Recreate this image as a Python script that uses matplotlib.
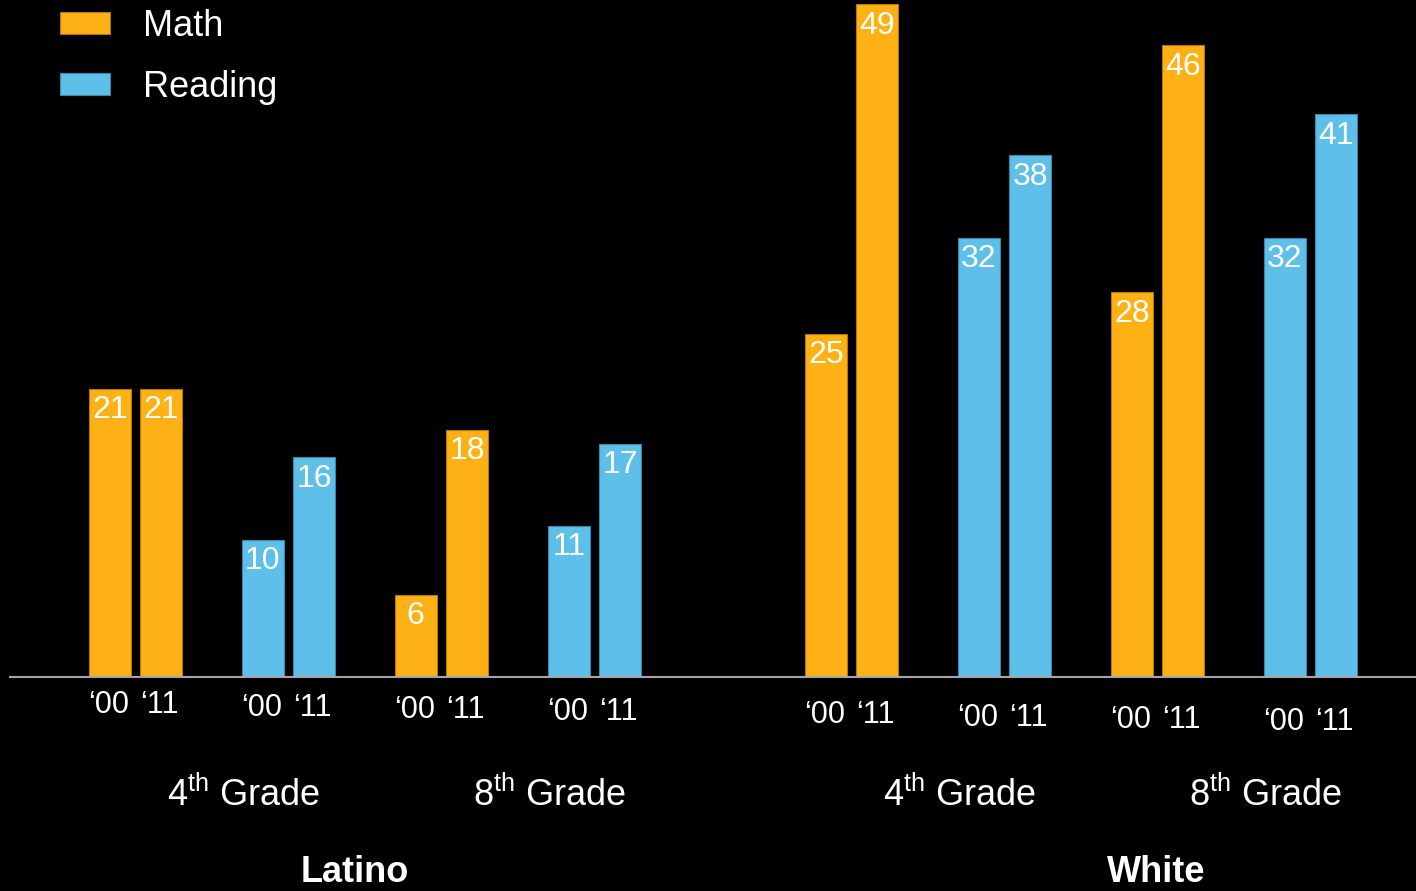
import numpy as np
import matplotlib.pyplot as plt
import matplotlib.transforms as mtransforms
from matplotlib.patches import Patch

plt.rcParams['font.family'] = ['Liberation Sans', 'DejaVu Sans']
plt.rcParams['mathtext.fontset'] = 'custom'
plt.rcParams['mathtext.rm'] = 'Liberation Sans'

# data: pairs are 4th Math, 4th Reading, 8th Math, 8th Reading
subjects = ["Math", "Reading", "Math", "Reading"]
grades = ["4$^{\\rm th}$ Grade", "8$^{\\rm th}$ Grade"]
groups = ["Latino", "White"]
years = ["\u201800", "\u201811"]
latino_2000 = [21, 10, 6, 11]
latino_2011 = [21, 16, 18, 17]
white_2000 = [25, 32, 28, 32]
white_2011 = [49, 38, 46, 41]

colors = {"Math": "#FEB114", "Reading": "#5EBFE9"}
edges = {"Math": "#B07A0A", "Reading": "#3A86A8"}

W, H = 1416, 891
fig = plt.figure(figsize=(W / 100, H / 100), dpi=100, facecolor="black")
ax = fig.add_axes([10 / W, (H - 677) / H, 1 - 10 / W, 677 / H])
ax.set_facecolor("black")

pos = np.concatenate([np.arange(4), 4.68 + np.arange(4)])
v2000 = latino_2000 + white_2000
v2011 = latino_2011 + white_2011
subj = subjects + subjects
off = 0.168
bw = 0.275

tr_fig = mtransforms.blended_transform_factory(ax.transData, fig.transFigure)
year_y = [705, 708, 710, 712, 715, 718, 720, 722]

for i, p in enumerate(pos):
    c = colors[subj[i]]
    e = edges[subj[i]]
    for x, v, yl in [(p - off, v2000[i], years[0]), (p + off, v2011[i], years[1])]:
        ax.bar(x, v, width=bw, color=c, edgecolor=e, linewidth=0.8)
        ax.annotate(str(v), (x, v), xytext=(0, -15.5), textcoords="offset points",
                    ha="center", va="center", color="white", fontsize=23)
        ax.text(x - 0.01, 1 - year_y[i] / H, yl, transform=tr_fig, ha="center",
                va="center", color="white", fontsize=22)

# grade labels
for k in range(4):
    gx = (pos[2 * k] + pos[2 * k + 1]) / 2 + 0.21
    ax.text(gx, 1 - 795 / H, grades[k % 2], transform=tr_fig, ha="center",
            va="center", color="white", fontsize=26)

# group labels
for gx, name in zip([1.435, 6.67], groups):
    ax.text(gx, 1 - 882 / H, name, transform=tr_fig, ha="center", va="baseline",
            color="white", fontsize=26, fontweight="bold")

ax.set_xlim(-0.82, 8.37)
ax.set_ylim(0, 49.3)
for s in ["top", "right", "left"]:
    ax.spines[s].set_visible(False)
ax.spines["bottom"].set_color("#A6A6A6")
ax.spines["bottom"].set_linewidth(1.5)
ax.set_xticks([])
ax.set_yticks([])

handles = [Patch(facecolor=colors[s], edgecolor=edges[s], linewidth=0.8, label=s)
           for s in ["Math", "Reading"]]
leg = fig.legend(handles=handles, loc="upper left", bbox_to_anchor=(60 / W, 1 - 9 / H),
                 frameon=False, fontsize=26, handlelength=1.39, handleheight=0.58,
                 handletextpad=0.92, labelspacing=0.72, borderpad=0, borderaxespad=0)
for t in leg.get_texts():
    t.set_color("white")

fig.savefig("out.png", dpi=100, facecolor="black")
